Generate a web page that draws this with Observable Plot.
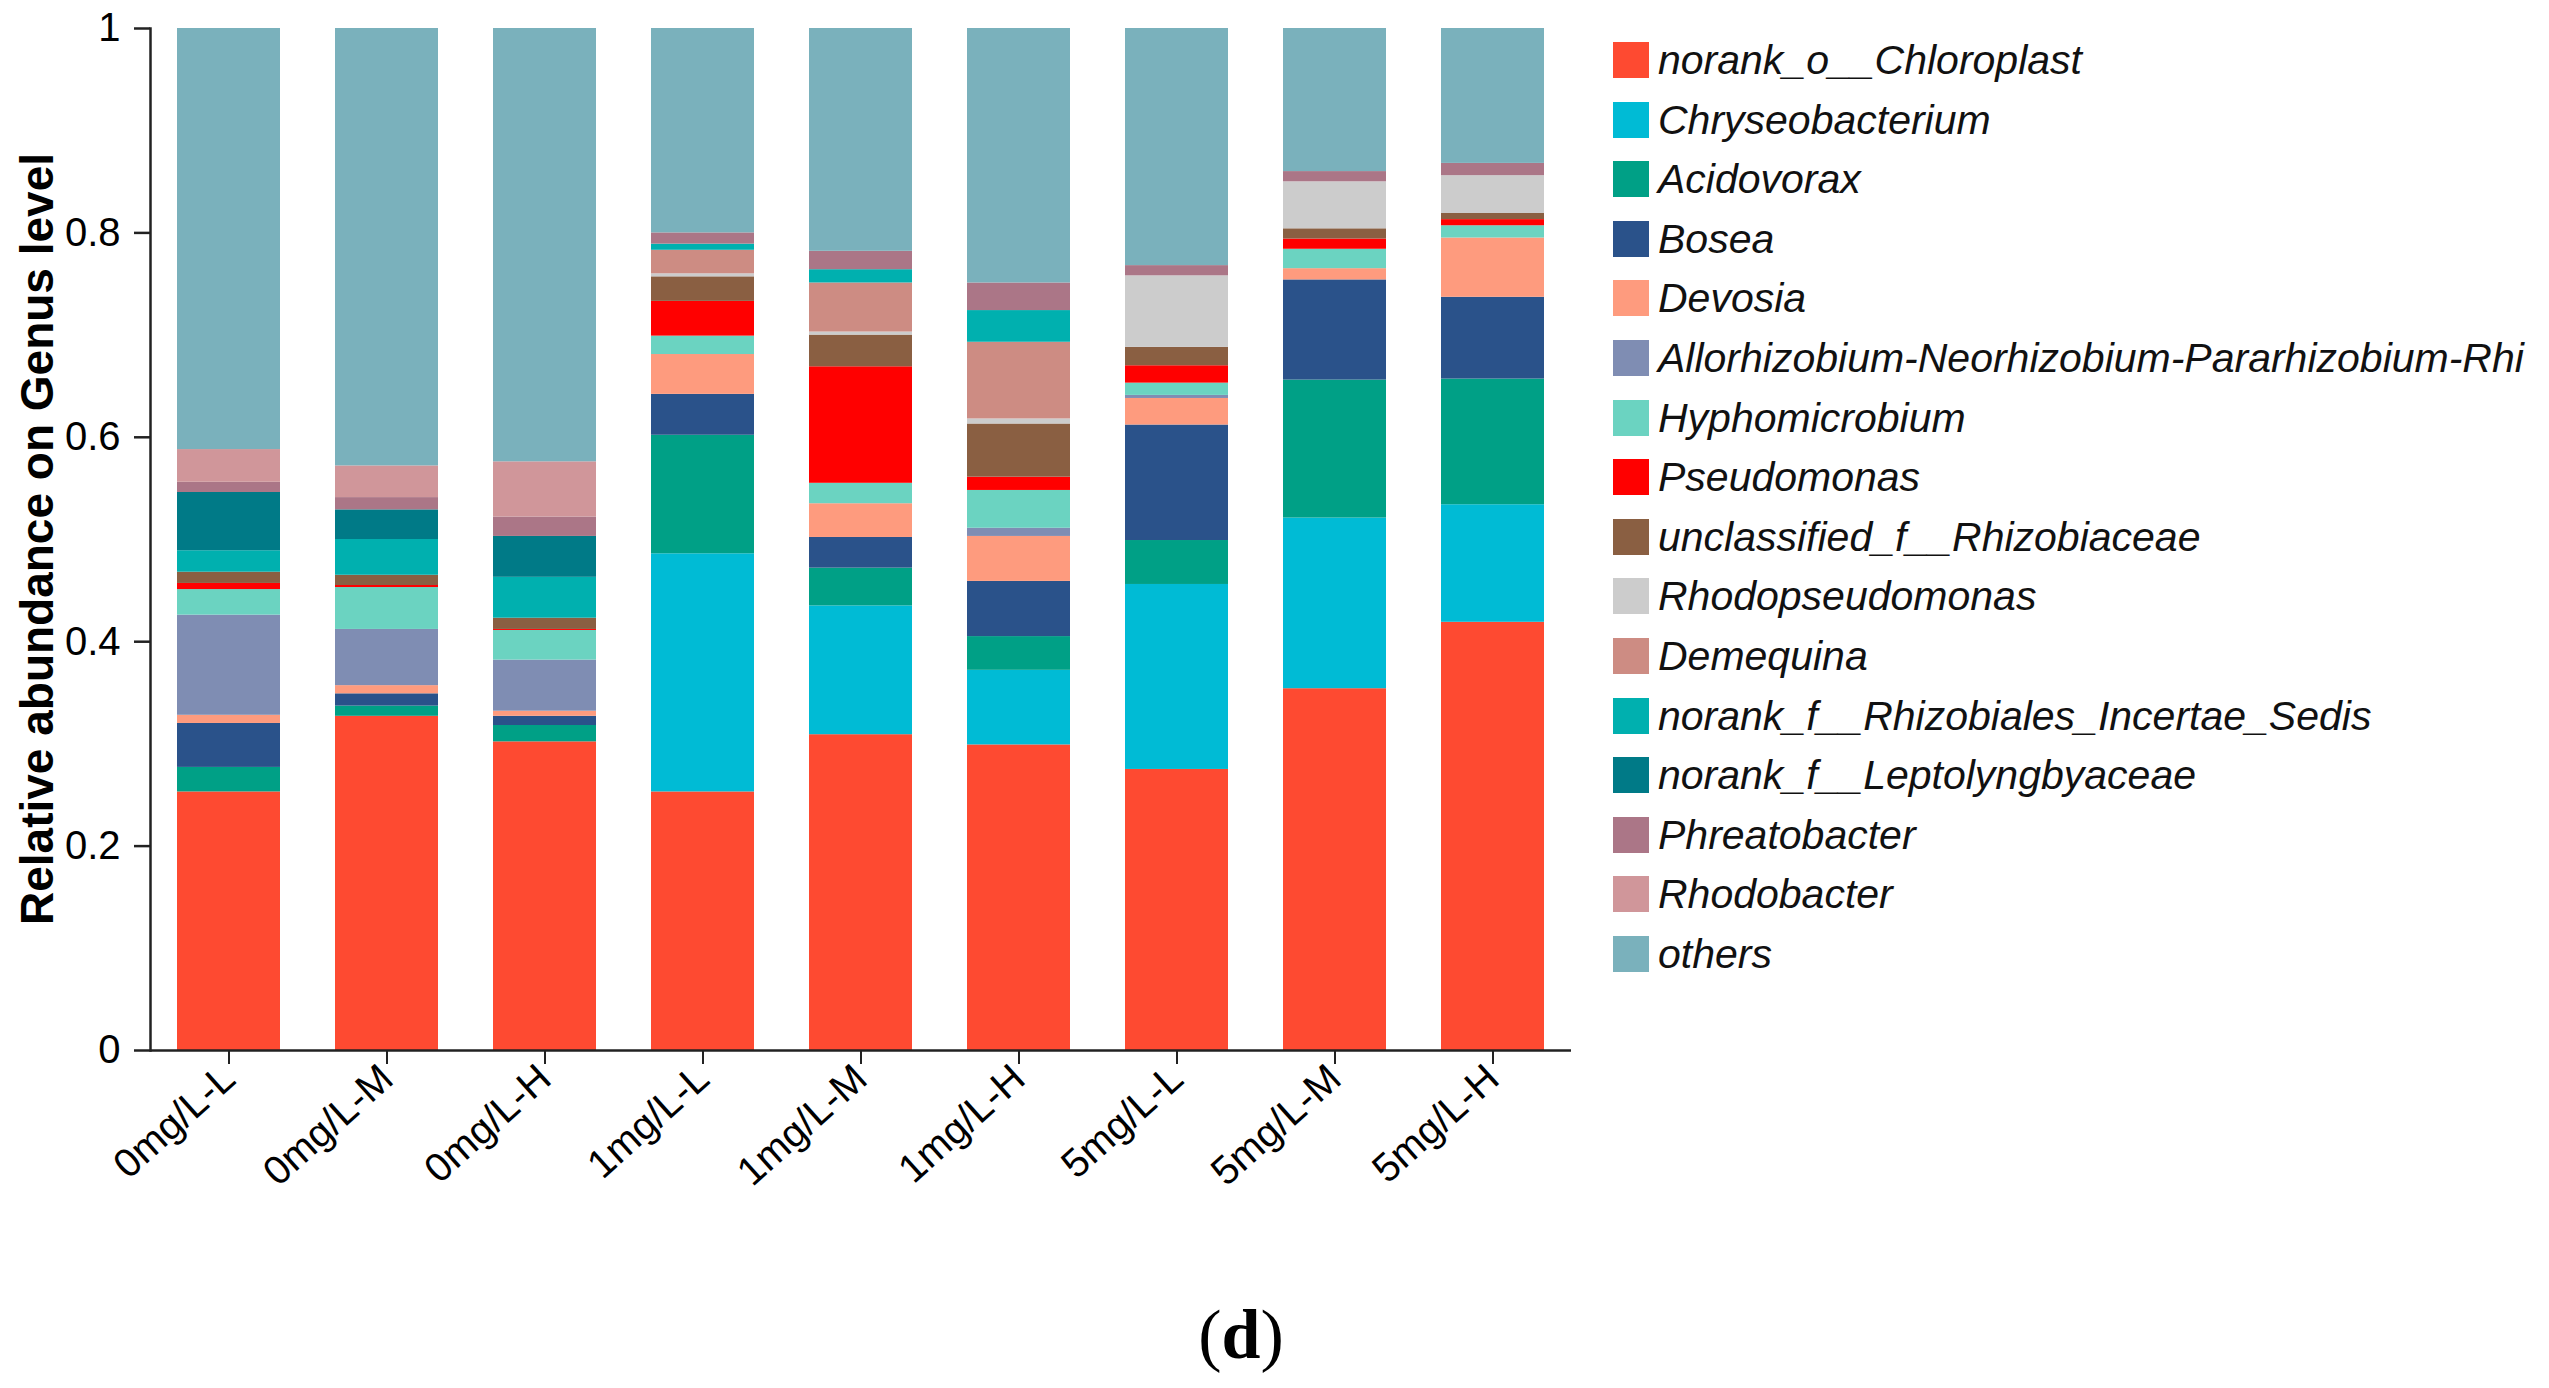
<!DOCTYPE html>
<html>
<head>
<meta charset="utf-8">
<script src="https://cdn.jsdelivr.net/npm/d3@7"></script>
<script src="https://cdn.jsdelivr.net/npm/@observablehq/plot@0.6"></script>
<style>
  html, body { margin: 0; padding: 0; background: #fff; overflow: hidden; }
  #page { position: relative; width: 2549px; height: 1388px; overflow: hidden; background: #fff; font-family: "Liberation Sans", Arial, sans-serif; }
  #chart { position: absolute; left: 0; top: 0; }
  #ytitle { position: absolute; left: 37px; top: 539px; transform: translate(-50%, -50%) rotate(-90deg); font-weight: bold; font-size: 46px; white-space: nowrap; color: #000; }
  #legend { position: absolute; left: 1613px; top: 30px; }
  .row { position: absolute; left: 0; height: 36px; white-space: nowrap; }
  .sw { position: absolute; left: 0; top: 0; width: 36px; height: 36px; }
  .lab { position: absolute; left: 45px; top: 50%; transform: translateY(-50%); font-style: italic; font-size: 41px; color: #111; line-height: 1; }
  #caption { position: absolute; left: 1241px; top: 1300px; transform: translateX(-50%); font-family: "Liberation Serif", "Times New Roman", serif; font-size: 70px; line-height: 1; white-space: nowrap; }
</style>
</head>
<body>
<div id="page">
  <div id="chart"></div>
  <div id="ytitle">Relative abundance on Genus level</div>
  <div id="legend"></div>
  <div id="caption">(<b>d</b>)</div>
</div>
<script>
const samples = ["0mg/L-L", "0mg/L-M", "0mg/L-H", "1mg/L-L", "1mg/L-M", "1mg/L-H", "5mg/L-L", "5mg/L-M", "5mg/L-H"];

const genera = [
  "norank_o__Chloroplast", "Chryseobacterium", "Acidovorax", "Bosea", "Devosia",
  "Allorhizobium-Neorhizobium-Pararhizobium-Rhi", "Hyphomicrobium", "Pseudomonas",
  "unclassified_f__Rhizobiaceae", "Rhodopseudomonas", "Demequina",
  "norank_f__Rhizobiales_Incertae_Sedis", "norank_f__Leptolyngbyaceae", "Phreatobacter",
  "Rhodobacter", "others"
];

const colors = [
  "#fe4a31", "#00bbd5", "#00a086", "#2a528a", "#fe9b7e",
  "#7f8db3", "#6bd3c1", "#ff0000",
  "#8a5f42", "#cccccc", "#cd8c83",
  "#00b0af", "#007a87", "#ab7687",
  "#d0969a", "#7ab1bc"
];

// values per genus, in sample order
const chloroplast      = [0.253, 0.327, 0.302, 0.253, 0.309, 0.299, 0.275, 0.354, 0.419];
const chryseobacterium = [0.000, 0.000, 0.000, 0.233, 0.126, 0.073, 0.181, 0.167, 0.115];
const acidovorax       = [0.024, 0.010, 0.016, 0.116, 0.037, 0.033, 0.043, 0.135, 0.123];
const bosea            = [0.043, 0.012, 0.009, 0.040, 0.030, 0.054, 0.113, 0.098, 0.080];
const devosia          = [0.008, 0.008, 0.005, 0.039, 0.033, 0.044, 0.026, 0.011, 0.058];
const allorhizobium    = [0.098, 0.055, 0.050, 0.000, 0.000, 0.008, 0.003, 0.000, 0.000];
const hyphomicrobium   = [0.025, 0.041, 0.029, 0.018, 0.020, 0.037, 0.012, 0.019, 0.012];
const pseudomonas      = [0.006, 0.002, 0.001, 0.034, 0.114, 0.013, 0.017, 0.010, 0.006];
const unclassifiedRhiz = [0.011, 0.010, 0.011, 0.024, 0.031, 0.052, 0.018, 0.010, 0.006];
const rhodopseudomonas = [0.000, 0.000, 0.000, 0.003, 0.003, 0.005, 0.070, 0.046, 0.037];
const demequina        = [0.000, 0.000, 0.000, 0.023, 0.048, 0.075, 0.000, 0.000, 0.000];
const incertaeSedis    = [0.021, 0.035, 0.040, 0.006, 0.013, 0.031, 0.000, 0.000, 0.000];
const leptolyngbyaceae = [0.057, 0.029, 0.040, 0.000, 0.000, 0.000, 0.000, 0.000, 0.000];
const phreatobacter    = [0.010, 0.012, 0.019, 0.011, 0.018, 0.027, 0.010, 0.010, 0.012];
const rhodobacter      = [0.032, 0.031, 0.054, 0.000, 0.000, 0.000, 0.000, 0.000, 0.000];
const others           = [0.412, 0.428, 0.424, 0.200, 0.218, 0.249, 0.232, 0.140, 0.132];

const yTicks = [0, 0.2, 0.4, 0.6, 0.8, 1];
const yTickLabels = ["0", "0.2", "0.4", "0.6", "0.8", "1"];

const series = [chloroplast, chryseobacterium, acidovorax, bosea, devosia, allorhizobium,
  hyphomicrobium, pseudomonas, unclassifiedRhiz, rhodopseudomonas, demequina, incertaeSedis,
  leptolyngbyaceae, phreatobacter, rhodobacter, others];

const data = [];
samples.forEach((s, i) => {
  genera.forEach((g, j) => {
    data.push({sample: s, genus: g, value: series[j][i]});
  });
});

const chart = Plot.plot({
  width: 1600,
  height: 1200,
  marginLeft: 150,
  marginRight: 29,
  marginTop: 28,
  marginBottom: 150,
  style: {fontFamily: "Liberation Sans, Arial, sans-serif", color: "#000", background: "#fff"},
  x: {domain: samples, paddingInner: 0.35, paddingOuter: 0.17, label: null},
  y: {domain: [0, 1], label: null},
  color: {domain: genera, range: colors},
  marks: [
    Plot.barY(data, {x: "sample", y: "value", fill: "genus"}),
    Plot.ruleY([0], {stroke: "#222", strokeWidth: 2.5}),
    Plot.frame({anchor: "left", stroke: "#222", strokeWidth: 2.5}),
    Plot.axisY({ticks: yTicks, tickFormat: (d, i) => yTickLabels[i], tickSize: 16, tickPadding: 14,
      fontSize: 40, stroke: "#222", strokeWidth: 2.5, label: null}),
    Plot.axisX({tickSize: 14, tickPadding: 8, tickRotate: -42, fontSize: 40,
      stroke: "#222", strokeWidth: 2, label: null})
  ]
});
document.getElementById("chart").appendChild(chart);

const legend = document.getElementById("legend");
genera.forEach((g, j) => {
  const row = document.createElement("div");
  row.className = "row";
  row.style.top = (12 + j * 59.6) + "px";
  const sw = document.createElement("div");
  sw.className = "sw";
  sw.style.background = colors[j];
  const lab = document.createElement("div");
  lab.className = "lab";
  lab.textContent = g;
  row.appendChild(sw);
  row.appendChild(lab);
  legend.appendChild(row);
});
</script>
</body>
</html>
